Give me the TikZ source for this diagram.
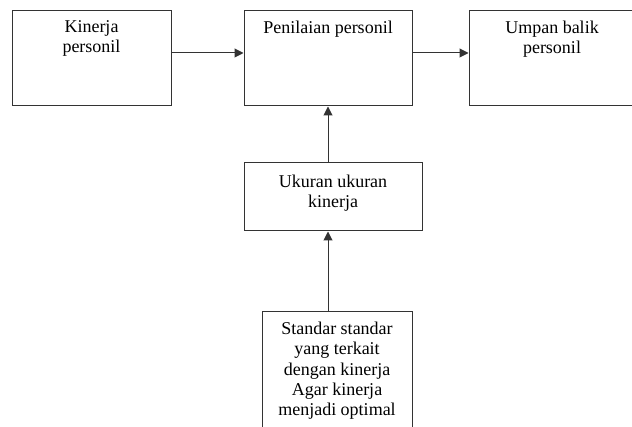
\documentclass[tikz,border=0pt]{standalone}
\usepackage{fontspec}
\setmainfont{Liberation Serif}
\usepackage{tikz}
\usetikzlibrary{positioning,arrows.meta}

\begin{document}
\begin{tikzpicture}[
  box/.style={draw=black!80, line width=1pt, minimum height=95pt, inner sep=0pt},
  txt/.style={align=center, inner sep=0pt, font=\rmfamily\fontsize{18}{20.3}\selectfont},
  arr/.style={-{Triangle[length=9pt,width=9pt]}, line width=1pt, draw=black!80}
]
\useasboundingbox (0,0) rectangle (632pt,-427pt);
\clip (0,0) rectangle (632pt,-427pt);

% top row
\node[box, minimum width=159pt] (kin) at (91.5pt,-58.5pt) {};
\node[box, minimum width=168pt, right=72pt of kin] (pen) {};
\node[box, minimum width=166pt, right=56pt of pen] (umpan) {};

% middle and bottom
\node[box, minimum width=178pt, minimum height=68pt, below=56pt of pen, xshift=5pt] (ukur) {};
\node[box, minimum width=150pt, minimum height=130pt, below=80pt of ukur, xshift=4pt] (std) {};

\node[txt, below=10pt of kin.north] (kintxt) {Kinerja\\personil};
\node[txt, below=10pt of pen.north] (pentxt) {Penilaian personil};
\node[txt, below=10pt of umpan.north] (umpantxt) {Umpan balik\\personil};
\node[txt, below=12.5pt of ukur.north] (ukurtxt) {Ukuran ukuran\\kinerja};
\node[txt, below=10.5pt of std.north] (stdtxt) {Standar standar\\yang terkait\\dengan kinerja\\Agar kinerja\\menjadi optimal};

\draw[arr] ([yshift=5.5pt]kin.east) -- ([yshift=5.5pt]pen.west);
\draw[arr] ([yshift=5.5pt]pen.east) -- ([yshift=5.5pt]umpan.west);
\draw[arr] (ukur.north -| pen.south) -- (pen.south);
\draw[arr] (std.north -| pen.south) -- (ukur.south -| pen.south);

\end{tikzpicture}
\end{document}
